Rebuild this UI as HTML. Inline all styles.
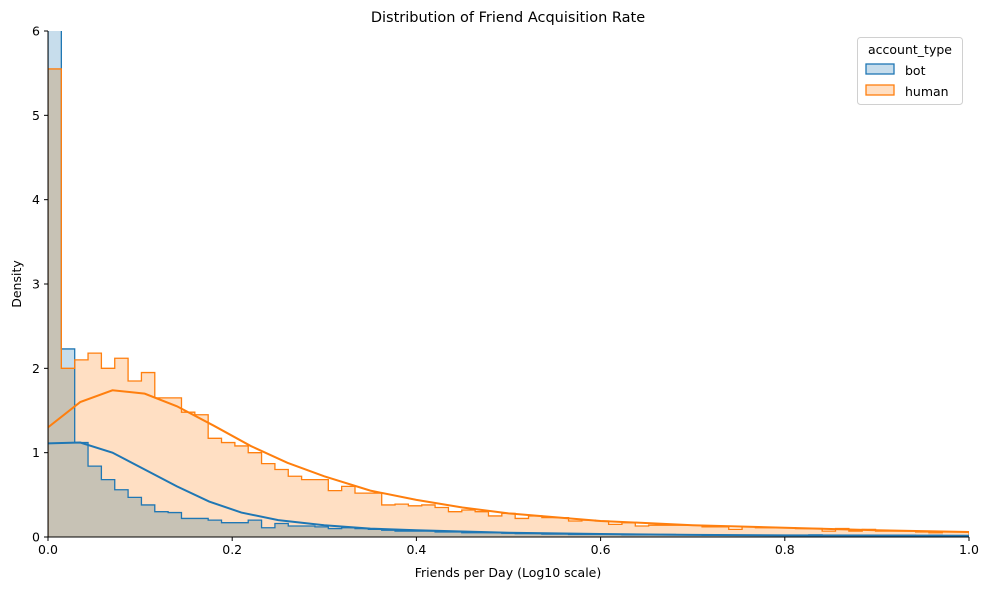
<!DOCTYPE html>
<html><head><meta charset="utf-8"><style>
body{margin:0;background:#fff;font-family:"DejaVu Sans","Liberation Sans",sans-serif;}
svg text{font-family:"DejaVu Sans","Liberation Sans",sans-serif;}
</style></head><body>
<svg id="chart" width="989" height="590" viewBox="0 0 989 590">
<defs><clipPath id="clip"><rect x="48" y="31" width="921" height="506"/></clipPath></defs>
<text x="508" y="22" text-anchor="middle" font-size="14.5">Distribution of Friend Acquisition Rate</text>
<g id="plot" clip-path="url(#clip)"></g>
<g id="axes"></g>
<text x="508" y="577" text-anchor="middle" font-size="12.5">Friends per Day (Log10 scale)</text>
<text transform="translate(21,284) rotate(-90)" text-anchor="middle" font-size="12.5">Density</text>
<g>
<rect x="857.5" y="37.5" width="105" height="67" rx="3" fill="#fff" stroke="#d0d0d0"/>
<text x="910" y="54" text-anchor="middle" font-size="12.5">account_type</text>
<g><rect x="866" y="64" width="28" height="10" fill="rgba(31,119,180,0.25)" stroke="#1f77b4" stroke-width="1.3"/><text x="905" y="75" font-size="12.5">bot</text></g>
<g><rect x="866" y="85" width="28" height="10" fill="rgba(255,127,14,0.25)" stroke="#ff7f0e" stroke-width="1.3"/><text x="905" y="96" font-size="12.5">human</text></g>
</g>
</svg>
<script>
const binWidth = 1/69;
const humanDensity = [5.55,2.0,2.1,2.18,2.0,2.12,1.85,1.95,1.65,1.65,1.48,1.45,1.17,1.12,1.08,1.0,0.87,0.8,0.72,0.68,0.68,0.55,0.6,0.52,0.52,0.38,0.39,0.37,0.38,0.35,0.3,0.32,0.3,0.25,0.28,0.22,0.25,0.23,0.23,0.19,0.2,0.19,0.15,0.17,0.13,0.14,0.14,0.14,0.14,0.12,0.12,0.09,0.12,0.11,0.11,0.11,0.1,0.1,0.07,0.1,0.07,0.09,0.07,0.07,0.07,0.06,0.05,0.06,0.06];
const botDensity = [8,2.23,1.12,0.84,0.68,0.56,0.47,0.38,0.3,0.29,0.22,0.22,0.2,0.17,0.17,0.2,0.11,0.16,0.13,0.13,0.12,0.1,0.11,0.1,0.09,0.08,0.07,0.07,0.07,0.06,0.06,0.05,0.05,0.05,0.045,0.04,0.04,0.035,0.035,0.03,0.03,0.03,0.03,0.025,0.025,0.025,0.03,0.025,0.025,0.02,0.02,0.02,0.02,0.02,0.02,0.02,0.02,0.025,0.02,0.02,0.02,0.02,0.02,0.02,0.02,0.015,0.02,0.015,0.015];
const humanKdeX = [0,0.035,0.07,0.105,0.14,0.18,0.22,0.26,0.3,0.35,0.4,0.45,0.5,0.6,0.7,0.8,0.9,1.0];
const humanKdeY = [1.3,1.6,1.74,1.7,1.55,1.32,1.08,0.88,0.72,0.55,0.44,0.35,0.28,0.19,0.14,0.11,0.08,0.06];
const botKdeX = [0,0.035,0.07,0.105,0.14,0.175,0.21,0.25,0.3,0.35,0.4,0.45,0.5,0.6,0.7,0.8,1.0];
const botKdeY = [1.11,1.12,1.0,0.8,0.6,0.42,0.29,0.2,0.14,0.1,0.08,0.065,0.05,0.035,0.025,0.02,0.015];
const xTicks = [0,0.2,0.4,0.6,0.8,1.0];
const xTickLabels = ["0.0","0.2","0.4","0.6","0.8","1.0"];
const yTicks = [0,1,2,3,4,5,6];

const X0=48,X1=969,Y0=537,Y1=31;
const xs = v => X0 + v*(X1-X0);
const ys = v => Y0 - v/6*(Y0-Y1);
const NS="http://www.w3.org/2000/svg";
const plot=document.getElementById('plot'), axes=document.getElementById('axes');

function stepPath(vals){
  let d=`M${xs(0)},${ys(0)}`;
  vals.forEach((v,i)=>{d+=` L${xs(i*binWidth)},${ys(v)} L${xs((i+1)*binWidth)},${ys(v)}`;});
  d+=` L${xs(vals.length*binWidth)},${ys(0)}`;
  return d;
}
function addPath(d,fill,stroke,sw,name,blend){
  const p=document.createElementNS(NS,'path');
  p.setAttribute('d',d);p.setAttribute('fill',fill);p.setAttribute('stroke',stroke);
  p.setAttribute('stroke-width',sw);p.setAttribute('stroke-linejoin','miter');
  if(blend)p.style.mixBlendMode='multiply';
  
  
  plot.appendChild(p);
}
addPath(stepPath(botDensity)+' Z','rgba(31,119,180,0.25)','none',0,'bot-hist-fill');
addPath(stepPath(humanDensity)+' Z','rgba(255,127,14,0.25)','none',0,'human-hist-fill',true);
addPath(stepPath(botDensity),'none','#1f77b4',1.3,'bot-hist-edge');
addPath(stepPath(humanDensity),'none','#ff7f0e',1.3,'human-hist-edge');
function kde(xa,ya){return xa.map((x,i)=>(i?'L':'M')+xs(x)+','+ys(ya[i])).join(' ');}
addPath(kde(botKdeX,botKdeY),'none','#1f77b4',2,'bot-kde-line');
addPath(kde(humanKdeX,humanKdeY),'none','#ff7f0e',2,'human-kde-line');

function line(x1,y1,x2,y2,name){
  const l=document.createElementNS(NS,'line');
  l.setAttribute('x1',x1);l.setAttribute('y1',y1);l.setAttribute('x2',x2);l.setAttribute('y2',y2);
  l.setAttribute('stroke','#000');l.setAttribute('stroke-width',1);
  
  
  axes.appendChild(l);
}
function text(x,y,s,anchor,name){
  const t=document.createElementNS(NS,'text');
  t.setAttribute('x',x);t.setAttribute('y',y);t.setAttribute('text-anchor',anchor);t.setAttribute('font-size','12.5');
  t.textContent=s;
  
  
  axes.appendChild(t);
}
line(X0,Y1,X0,Y0+0.5,'y-axis-spine');
line(X0-0.5,Y0,X1,Y0,'x-axis-spine');
xTicks.forEach((v,i)=>{line(xs(v),Y0,xs(v),Y0+4,'x-tick');text(xs(v),Y0+17,xTickLabels[i],'middle','x-tick-label');});
yTicks.forEach(v=>{line(X0-4,ys(v),X0,ys(v),'y-tick');text(X0-8,ys(v)+4.5,String(v),'end','y-tick-label');});
</script>
</body></html>
